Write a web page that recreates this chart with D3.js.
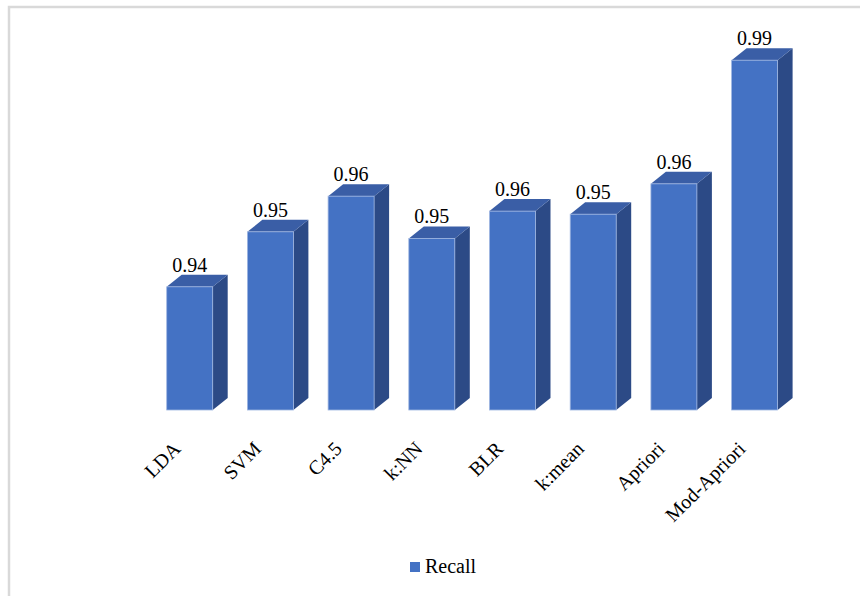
<!DOCTYPE html>
<html>
<head>
<meta charset="utf-8">
<script src="https://cdn.jsdelivr.net/npm/d3@7"></script>
<style>
  body { margin: 0; background: #fff; }
  svg { display: block; }
  text { font-family: "Liberation Serif", "Times New Roman", serif; fill: #000; }
</style>
</head>
<body>
<svg width="860" height="596"></svg>
<script>
var categories = ["LDA", "SVM", "C4.5", "k:NN", "BLR", "k:mean", "Apriori", "Mod-Apriori"];
var recall = [0.938, 0.9505, 0.9586, 0.949, 0.9552, 0.9545, 0.9614, 0.9895];
var seriesName = "Recall";

var DEPTH_X = 15;
var DEPTH_Y = 12;
var BASE = 410;

var colors = {
	front: "#4472c4",
	top: "#3a5ea6",
	side: "#2c4a86",
	edge: "#9fb6e2"
}

var svg = d3.select("svg");

// chart frame (only top and left edges visible in the crop)
svg.append("rect")
	.attr("x", 9).attr("y", 7)
	.attr("width", 900).attr("height", 700)
	.attr("fill", "#fff")
	.attr("stroke", "#d9d9d9")
	.attr("stroke-width", 2.5);

var x = d3.scaleBand()
	.domain(categories)
	.range([132, 812.3])
	.paddingInner(0.43)
	.paddingOuter(0.43);

var y = d3.scaleLinear()
	.domain([0.91, 1.0])
	.range([BASE, BASE - 0.09 * 4400]);

var data = categories.map(function(c, i){ return { name: c, value: recall[i] } });

var bars = svg.append("g").selectAll("g.bar")
	.data(data)
	.enter().append("g")
	.attr("class", "bar");

function sidePath(d){
	var x0 = x(d.name) + x.bandwidth(), y0 = y(d.value);
	return "M" + x0 + "," + y0 +
		"L" + (x0 + DEPTH_X) + "," + (y0 - DEPTH_Y) +
		"L" + (x0 + DEPTH_X) + "," + (BASE - DEPTH_Y) +
		"L" + x0 + "," + BASE + "Z";
}

function topPath(d){
	var x0 = x(d.name), x1 = x0 + x.bandwidth(), y0 = y(d.value);
	return "M" + x0 + "," + y0 +
		"L" + (x0 + DEPTH_X) + "," + (y0 - DEPTH_Y) +
		"L" + (x1 + DEPTH_X) + "," + (y0 - DEPTH_Y) +
		"L" + x1 + "," + y0 + "Z";
}

bars.append("path")
	.attr("d", sidePath)
	.attr("fill", colors.side);

bars.append("path")
	.attr("d", topPath)
	.attr("fill", colors.top);

bars.append("rect")
	.attr("x", function(d){ return x(d.name) })
	.attr("y", function(d){ return y(d.value) })
	.attr("width", x.bandwidth())
	.attr("height", function(d){ return BASE - y(d.value) })
	.attr("fill", colors.front)
	.attr("stroke", colors.edge)
	.attr("stroke-width", 0.8);

// value labels
var fmt = d3.format(".2f");
bars.append("text")
	.attr("x", function(d){ return x(d.name) + x.bandwidth() / 2 })
	.attr("y", function(d){ return y(d.value) - DEPTH_Y - 3 })
	.attr("text-anchor", "middle")
	.attr("font-size", 20)
	.text(function(d){ return fmt(d.value) });

// category labels, rotated
svg.append("g").selectAll("text.cat")
	.data(categories)
	.enter().append("text")
	.attr("class", "cat")
	.attr("font-size", 20)
	.attr("text-anchor", "end")
	.attr("transform", function(c){
		var cx = x(c) + x.bandwidth() / 2 - 8;
		return "translate(" + cx + ",450) rotate(-45)";
	})
	.text(function(c){ return c });

// legend
var legend = svg.append("g").attr("transform", "translate(410,562)");
legend.append("rect")
	.attr("width", 10).attr("height", 10)
	.attr("fill", colors.front);
legend.append("text")
	.attr("x", 15).attr("y", 11)
	.attr("font-size", 20)
	.text(seriesName);
</script>
</body>
</html>
